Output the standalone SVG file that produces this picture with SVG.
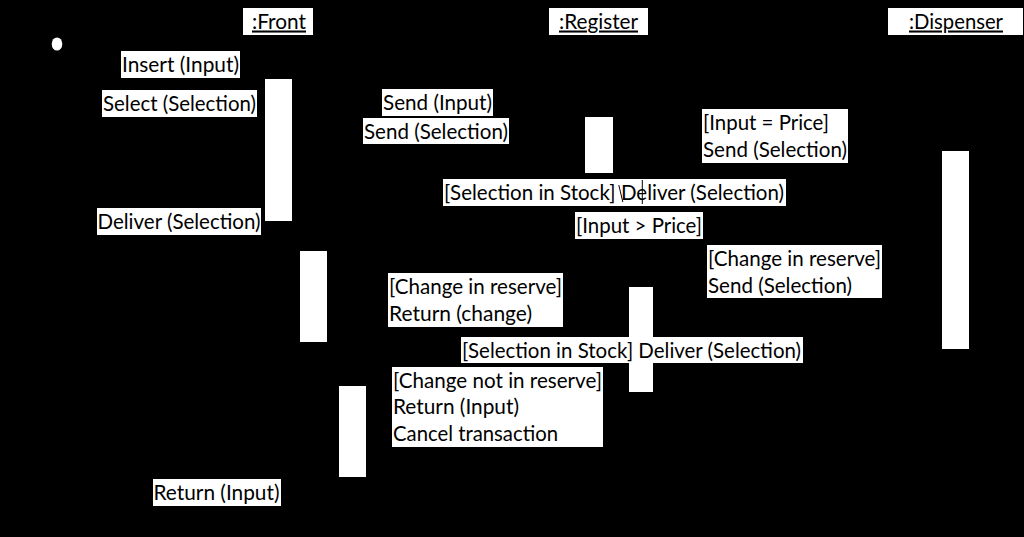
<svg xmlns="http://www.w3.org/2000/svg" width="1024" height="537" viewBox="0 0 1024 537">
<style>
.bg{fill:#000}
.box{fill:#fff}
.act{fill:#fff}
.t{font-family:Lato,"Liberation Sans",sans-serif;font-size:20.5px;fill:#000}
.u{text-decoration:underline}
.conn{stroke:#000;stroke-width:1;fill:none}
</style>
<rect class="bg" x="0" y="0" width="1024" height="537"/>

<g id="start">
<ellipse cx="57" cy="44" rx="5.3" ry="6.6" fill="#fff"/>
</g>

<g id="front">
<rect class="box" x="243" y="8" width="70" height="27"/>
<text class="t u" x="252" y="28.5" textLength="54" lengthAdjust="spacingAndGlyphs">:Front</text>
</g>
<g id="register">
<rect class="box" x="549" y="8" width="99" height="27"/>
<text class="t u" x="559" y="28.5" textLength="79" lengthAdjust="spacingAndGlyphs">:Register</text>
</g>
<g id="dispenser">
<rect class="box" x="888" y="8" width="135" height="27"/>
<text class="t u" x="909" y="28.5" textLength="94" lengthAdjust="spacingAndGlyphs">:Dispenser</text>
</g>

<g id="front-act1"><rect class="act" x="265" y="79" width="27" height="142"/></g>
<g id="front-act2"><rect class="act" x="300" y="251" width="27" height="91"/></g>
<g id="front-act3"><rect class="act" x="339" y="386" width="27" height="91"/></g>
<g id="register-act1"><rect class="act" x="585" y="117" width="28" height="56"/></g>
<g id="register-act2"><rect class="act" x="629" y="287" width="24" height="105"/></g>
<g id="dispenser-act1"><rect class="act" x="942" y="151" width="27" height="198"/></g>

<g id="msg-insert">
<rect class="box" x="121" y="51" width="119" height="27"/>
<text class="t" x="122" y="72" textLength="117" lengthAdjust="spacingAndGlyphs">Insert (Input)</text>
</g>
<g id="msg-select">
<rect class="box" x="102" y="90" width="155" height="27"/>
<text class="t" x="103" y="111" textLength="153" lengthAdjust="spacingAndGlyphs">Select (Selection)</text>
</g>
<g id="msg-deliver-front">
<rect class="box" x="97" y="208" width="164" height="27"/>
<text class="t" x="97.5" y="229" textLength="163" lengthAdjust="spacingAndGlyphs">Deliver (Selection)</text>
</g>
<g id="msg-send-input">
<rect class="box" x="382" y="89" width="111" height="27"/>
<text class="t" x="383" y="110" textLength="109" lengthAdjust="spacingAndGlyphs">Send (Input)</text>
</g>
<g id="msg-send-selection">
<rect class="box" x="363" y="118" width="146" height="26"/>
<text class="t" x="364" y="138.5" textLength="144" lengthAdjust="spacingAndGlyphs">Send (Selection)</text>
</g>
<g id="msg-stock1">
<rect class="box" x="443" y="179" width="343" height="27"/>
<text class="t" x="444" y="200" textLength="340" lengthAdjust="spacingAndGlyphs">[Selection in Stock] Deliver (Selection)</text>
</g>
<g id="msg-input-gt">
<rect class="box" x="575" y="212" width="128" height="27"/>
<text class="t" x="576" y="233" textLength="126" lengthAdjust="spacingAndGlyphs">[Input &gt; Price]</text>
</g>
<g id="msg-input-eq">
<rect class="box" x="702" y="109" width="146" height="54"/>
<text class="t" x="703" y="130" textLength="126" lengthAdjust="spacingAndGlyphs">[Input = Price]</text>
<text class="t" x="703" y="156.5" textLength="144" lengthAdjust="spacingAndGlyphs">Send (Selection)</text>
</g>
<g id="msg-change-send">
<rect class="box" x="707" y="245" width="175" height="53"/>
<text class="t" x="708" y="266" textLength="173" lengthAdjust="spacingAndGlyphs">[Change in reserve]</text>
<text class="t" x="708" y="292.5" textLength="144" lengthAdjust="spacingAndGlyphs">Send (Selection)</text>
</g>
<g id="msg-change-return">
<rect class="box" x="388" y="273" width="175" height="54"/>
<text class="t" x="389" y="294" textLength="173" lengthAdjust="spacingAndGlyphs">[Change in reserve]</text>
<text class="t" x="389" y="320.5" textLength="143" lengthAdjust="spacingAndGlyphs">Return (change)</text>
</g>
<g id="msg-stock2">
<rect class="box" x="461" y="337" width="342" height="26"/>
<text class="t" x="462" y="357.5" textLength="339" lengthAdjust="spacingAndGlyphs">[Selection in Stock] Deliver (Selection)</text>
</g>
<g id="msg-no-change">
<rect class="box" x="392" y="367" width="211" height="80"/>
<text class="t" x="393" y="387.5" textLength="209" lengthAdjust="spacingAndGlyphs">[Change not in reserve]</text>
<text class="t" x="393" y="414" textLength="126" lengthAdjust="spacingAndGlyphs">Return (Input)</text>
<text class="t" x="393" y="440.5" textLength="165" lengthAdjust="spacingAndGlyphs">Cancel transaction</text>
</g>
<g id="msg-return-input">
<rect class="box" x="153" y="479" width="128" height="27"/>
<text class="t" x="153.5" y="500" textLength="126" lengthAdjust="spacingAndGlyphs">Return (Input)</text>
</g>

<g id="connectors">
<line class="conn" x1="618.8" y1="185" x2="622.8" y2="202"/>
<line class="conn" x1="642.3" y1="180" x2="642.3" y2="204"/>
</g>
</svg>
